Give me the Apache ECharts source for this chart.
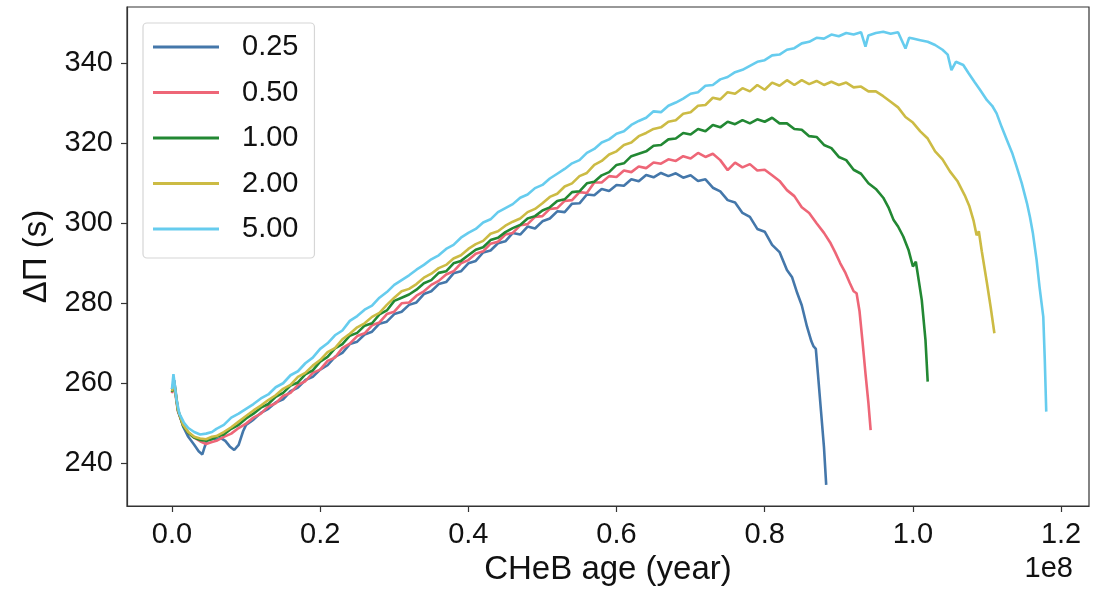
<!DOCTYPE html>
<html>
<head>
<meta charset="utf-8">
<script src="https://cdn.jsdelivr.net/npm/echarts@6/dist/echarts.min.js"></script>
<style>
  html, body { margin: 0; padding: 0; background: #fff; }
  #container { width: 1094px; height: 594px; }
</style>
</head>
<body>
<div id="container"></div>
<script>
// 各质量的 CHeB 年龄 (1e8 yr) 与 ΔΠ (s)
var names = ["0.25", "0.50", "1.00", "2.00", "5.00"];
var colors = ["#4477AA", "#EE6677", "#228833", "#CCBB44", "#66CCEE"];
var xTicks = [0, 0.2, 0.4, 0.6, 0.8, 1.0, 1.2];
var yTicks = [240, 260, 280, 300, 320, 340];

var m025 = [[0, 258.5], [0.003, 260.8], [0.008, 253.5], [0.015, 249.2], [0.022, 246.6], [0.03, 244.6], [0.036, 243.0], [0.041, 242.2], [0.044, 244.0], [0.047, 245.6], [0.053, 246.4], [0.06, 245.9], [0.066, 246.3], [0.072, 245.6], [0.078, 244.2], [0.084, 243.3], [0.09, 244.6], [0.096, 248.0], [0.1, 249.6], [0.11, 250.9], [0.12, 252.6], [0.13, 253.6], [0.14, 255.2], [0.15, 256.0], [0.16, 258.0], [0.17, 258.9], [0.18, 260.8], [0.19, 261.6], [0.2, 263.4], [0.21, 264.5], [0.22, 266.6], [0.23, 267.6], [0.24, 269.8], [0.25, 270.4], [0.26, 272.2], [0.27, 272.9], [0.28, 274.9], [0.29, 275.4], [0.3, 277.3], [0.31, 277.9], [0.32, 279.6], [0.33, 280.2], [0.34, 282.3], [0.35, 283.0], [0.36, 284.8], [0.37, 285.3], [0.38, 287.5], [0.39, 288.0], [0.4, 290.0], [0.41, 290.6], [0.42, 292.7], [0.43, 293.2], [0.44, 295.0], [0.45, 295.5], [0.46, 297.6], [0.47, 297.2], [0.48, 299.2], [0.49, 298.7], [0.5, 300.5], [0.51, 301.2], [0.52, 303.0], [0.53, 302.8], [0.54, 304.9], [0.55, 305.0], [0.56, 307.2], [0.57, 307.0], [0.58, 308.6], [0.59, 308.1], [0.6, 309.6], [0.61, 309.4], [0.62, 311.0], [0.63, 310.5], [0.64, 312.1], [0.65, 311.5], [0.66, 312.6], [0.67, 311.8], [0.68, 312.5], [0.69, 311.4], [0.7, 312.0], [0.71, 310.6], [0.72, 311.0], [0.73, 308.9], [0.74, 308.0], [0.75, 305.8], [0.76, 305.2], [0.77, 302.6], [0.78, 301.6], [0.79, 298.6], [0.8, 297.9], [0.81, 294.6], [0.82, 292.8], [0.83, 288.3], [0.837, 286.5], [0.844, 282.5], [0.85, 279.5], [0.857, 274.2], [0.863, 270.5], [0.866, 269.2], [0.869, 268.6], [0.872, 262.0], [0.876, 253.0], [0.88, 244.0], [0.883, 234.6]];

var m050 = [[0, 257.5], [0.003, 259.5], [0.008, 253.0], [0.015, 249.5], [0.022, 247.6], [0.03, 246.4], [0.038, 245.5], [0.046, 244.8], [0.054, 245.3], [0.06, 245.6], [0.07, 246.6], [0.08, 247.4], [0.09, 248.8], [0.1, 249.9], [0.11, 251.4], [0.12, 252.4], [0.13, 254.2], [0.14, 255.0], [0.15, 256.8], [0.16, 257.6], [0.17, 259.6], [0.18, 260.5], [0.19, 262.6], [0.2, 263.4], [0.21, 265.6], [0.22, 266.4], [0.23, 268.8], [0.24, 269.9], [0.25, 271.8], [0.26, 272.5], [0.27, 274.5], [0.28, 275.2], [0.29, 277.3], [0.3, 277.9], [0.31, 280.0], [0.32, 280.2], [0.33, 281.9], [0.34, 283.0], [0.35, 284.6], [0.36, 285.6], [0.37, 287.2], [0.38, 288.0], [0.39, 290.0], [0.4, 290.8], [0.41, 292.4], [0.42, 293.0], [0.43, 294.9], [0.44, 295.4], [0.45, 297.2], [0.46, 297.6], [0.47, 299.5], [0.48, 299.8], [0.49, 301.6], [0.5, 301.8], [0.51, 303.6], [0.52, 303.8], [0.53, 305.6], [0.54, 305.8], [0.55, 307.8], [0.56, 307.6], [0.57, 310.2], [0.58, 310.2], [0.59, 311.8], [0.6, 311.6], [0.61, 313.2], [0.62, 312.8], [0.63, 314.2], [0.64, 313.8], [0.65, 315.2], [0.66, 314.9], [0.67, 316.0], [0.68, 315.6], [0.69, 316.8], [0.7, 316.2], [0.71, 317.6], [0.72, 316.6], [0.73, 317.4], [0.74, 315.8], [0.75, 313.3], [0.76, 315.2], [0.77, 314.0], [0.78, 314.8], [0.79, 313.2], [0.8, 313.4], [0.81, 312.0], [0.82, 310.6], [0.83, 308.3], [0.84, 306.8], [0.85, 304.0], [0.86, 302.6], [0.87, 300.0], [0.88, 297.6], [0.889, 295.0], [0.895, 292.8], [0.902, 290.0], [0.909, 287.6], [0.915, 285.0], [0.92, 283.0], [0.924, 282.5], [0.928, 278.0], [0.932, 270.5], [0.936, 262.5], [0.94, 255.0], [0.943, 248.3]];

var m100 = [[0, 257.8], [0.003, 260.0], [0.008, 253.2], [0.015, 249.4], [0.022, 247.6], [0.03, 246.4], [0.038, 245.8], [0.046, 245.6], [0.054, 246.0], [0.06, 246.6], [0.07, 247.2], [0.08, 248.6], [0.09, 249.6], [0.1, 251.2], [0.11, 252.4], [0.12, 253.9], [0.13, 254.8], [0.14, 256.6], [0.15, 257.6], [0.16, 259.4], [0.17, 260.2], [0.18, 262.2], [0.19, 263.2], [0.2, 265.4], [0.21, 266.6], [0.22, 268.7], [0.23, 269.8], [0.24, 271.9], [0.25, 272.6], [0.26, 274.4], [0.27, 275.0], [0.28, 277.2], [0.29, 278.2], [0.3, 280.6], [0.31, 281.4], [0.32, 282.2], [0.33, 283.4], [0.34, 285.0], [0.35, 285.8], [0.36, 287.6], [0.37, 288.0], [0.38, 290.0], [0.39, 290.6], [0.4, 292.0], [0.41, 293.4], [0.42, 294.0], [0.43, 295.8], [0.44, 296.4], [0.45, 297.8], [0.46, 298.8], [0.47, 299.6], [0.48, 301.2], [0.49, 301.8], [0.5, 303.2], [0.51, 304.0], [0.52, 305.6], [0.53, 306.0], [0.54, 307.8], [0.55, 308.0], [0.56, 310.0], [0.57, 310.4], [0.58, 312.0], [0.59, 312.8], [0.6, 314.6], [0.61, 315.0], [0.62, 316.8], [0.63, 317.4], [0.64, 318.0], [0.65, 319.4], [0.66, 319.6], [0.67, 321.0], [0.68, 321.2], [0.69, 322.6], [0.7, 322.2], [0.71, 323.6], [0.72, 323.0], [0.73, 324.6], [0.74, 324.0], [0.75, 325.4], [0.76, 324.8], [0.77, 325.8], [0.78, 325.0], [0.79, 326.0], [0.8, 325.4], [0.81, 326.4], [0.82, 325.0], [0.83, 325.0], [0.84, 323.6], [0.85, 323.4], [0.86, 321.8], [0.87, 321.6], [0.88, 319.6], [0.89, 318.8], [0.9, 316.6], [0.91, 315.8], [0.92, 313.4], [0.93, 312.4], [0.94, 310.0], [0.95, 308.6], [0.96, 306.4], [0.967, 304.0], [0.974, 300.8], [0.98, 299.2], [0.987, 296.7], [0.994, 293.4], [1.0, 289.2], [1.004, 290.4], [1.008, 285.6], [1.012, 280.8], [1.017, 270.8], [1.02, 260.4]];

var m200 = [[0, 258.0], [0.003, 260.2], [0.008, 253.4], [0.015, 249.6], [0.022, 247.8], [0.03, 246.6], [0.038, 246.2], [0.046, 246.0], [0.054, 246.6], [0.06, 246.8], [0.07, 247.8], [0.08, 249.0], [0.09, 250.4], [0.1, 251.8], [0.11, 253.2], [0.12, 254.4], [0.13, 255.8], [0.14, 257.0], [0.15, 258.6], [0.16, 259.6], [0.17, 261.6], [0.18, 262.6], [0.19, 264.4], [0.2, 265.8], [0.21, 267.8], [0.22, 268.8], [0.23, 271.0], [0.24, 272.4], [0.25, 274.0], [0.26, 275.0], [0.27, 276.6], [0.28, 277.6], [0.29, 279.6], [0.3, 281.4], [0.31, 283.0], [0.32, 283.6], [0.33, 284.8], [0.34, 286.4], [0.35, 287.4], [0.36, 288.8], [0.37, 289.6], [0.38, 291.2], [0.39, 292.0], [0.4, 293.6], [0.41, 294.8], [0.42, 295.6], [0.43, 297.4], [0.44, 298.0], [0.45, 299.4], [0.46, 300.4], [0.47, 301.2], [0.48, 302.8], [0.49, 303.6], [0.5, 305.0], [0.51, 306.6], [0.52, 307.4], [0.53, 309.2], [0.54, 310.0], [0.55, 311.8], [0.56, 312.6], [0.57, 314.6], [0.58, 315.6], [0.59, 317.2], [0.6, 318.0], [0.61, 319.6], [0.62, 320.2], [0.63, 321.8], [0.64, 322.6], [0.65, 323.6], [0.66, 324.0], [0.67, 325.4], [0.68, 325.8], [0.69, 327.4], [0.7, 327.8], [0.71, 329.4], [0.72, 329.6], [0.73, 331.4], [0.74, 331.0], [0.75, 332.8], [0.76, 332.4], [0.77, 333.8], [0.78, 333.0], [0.79, 334.6], [0.8, 333.4], [0.81, 335.2], [0.82, 334.4], [0.83, 335.8], [0.84, 334.6], [0.85, 335.8], [0.86, 334.8], [0.87, 335.6], [0.88, 334.6], [0.89, 335.4], [0.9, 334.6], [0.91, 335.2], [0.92, 334.0], [0.93, 334.2], [0.94, 333.0], [0.95, 333.0], [0.96, 331.8], [0.97, 330.4], [0.98, 329.0], [0.99, 326.6], [1.0, 325.2], [1.01, 323.0], [1.02, 321.2], [1.03, 318.0], [1.04, 316.0], [1.05, 313.0], [1.06, 310.6], [1.07, 307.0], [1.076, 304.4], [1.082, 300.6], [1.086, 297.0], [1.089, 298.0], [1.093, 293.0], [1.1, 285.0], [1.105, 279.0], [1.11, 272.5]];

var m500 = [[0, 258.5], [0.002, 262.3], [0.006, 256.0], [0.01, 252.4], [0.016, 250.2], [0.022, 248.8], [0.03, 247.8], [0.038, 247.2], [0.046, 247.4], [0.054, 247.8], [0.06, 248.6], [0.07, 249.6], [0.08, 251.4], [0.09, 252.4], [0.1, 253.6], [0.11, 254.8], [0.12, 256.2], [0.13, 257.2], [0.14, 259.0], [0.15, 260.0], [0.16, 262.0], [0.17, 263.0], [0.18, 265.0], [0.19, 266.4], [0.2, 268.6], [0.21, 270.0], [0.22, 272.0], [0.23, 273.2], [0.24, 275.6], [0.25, 276.8], [0.26, 278.4], [0.27, 279.4], [0.28, 281.4], [0.29, 282.8], [0.3, 284.6], [0.31, 285.8], [0.32, 287.0], [0.33, 288.4], [0.34, 289.6], [0.35, 291.0], [0.36, 292.0], [0.37, 293.6], [0.38, 294.6], [0.39, 296.4], [0.4, 297.6], [0.41, 298.6], [0.42, 300.2], [0.43, 301.0], [0.44, 302.8], [0.45, 303.8], [0.46, 304.8], [0.47, 306.4], [0.48, 307.2], [0.49, 308.8], [0.5, 309.6], [0.51, 311.2], [0.52, 312.4], [0.53, 313.6], [0.54, 315.0], [0.55, 315.8], [0.56, 317.6], [0.57, 318.6], [0.58, 320.2], [0.59, 321.0], [0.6, 322.4], [0.61, 323.0], [0.62, 324.6], [0.63, 325.6], [0.64, 326.4], [0.65, 328.0], [0.66, 327.8], [0.67, 329.4], [0.68, 330.2], [0.69, 331.2], [0.7, 332.4], [0.71, 332.8], [0.72, 334.4], [0.73, 334.6], [0.74, 336.0], [0.75, 336.6], [0.76, 337.8], [0.77, 338.4], [0.78, 339.4], [0.79, 340.4], [0.8, 340.8], [0.81, 342.0], [0.82, 342.2], [0.83, 343.4], [0.84, 343.8], [0.85, 345.0], [0.86, 345.4], [0.87, 346.4], [0.88, 346.2], [0.89, 347.2], [0.9, 346.8], [0.91, 347.6], [0.92, 347.2], [0.93, 347.8], [0.936, 344.2], [0.94, 347.0], [0.95, 347.6], [0.96, 347.9], [0.97, 347.4], [0.98, 347.8], [0.99, 343.7], [0.995, 346.4], [1.0, 346.2], [1.01, 345.8], [1.02, 345.4], [1.03, 344.6], [1.04, 343.4], [1.047, 342.2], [1.052, 338.3], [1.058, 340.4], [1.068, 339.6], [1.075, 337.6], [1.083, 335.4], [1.091, 333.3], [1.1, 330.8], [1.107, 329.4], [1.113, 327.5], [1.12, 324.0], [1.127, 320.8], [1.134, 317.6], [1.14, 314.2], [1.147, 310.0], [1.154, 305.0], [1.158, 301.6], [1.162, 297.5], [1.167, 290.8], [1.171, 284.0], [1.176, 276.6], [1.178, 266.0], [1.18, 252.9]];

var seriesData = [m025, m050, m100, m200, m500];
var FONT = "Liberation Sans, Arial, Helvetica, sans-serif";

function initChart() {
    var series = [];
    for (var i = 0; i < names.length; i++) {
        series.push({
            name: names[i],
            type: "line",
            data: seriesData[i],
            showSymbol: false,
            symbol: "none",
            animation: false,
            color: colors[i],
            lineStyle: { width: 2.6, color: colors[i] }
        });
    }

    var option = {
        backgroundColor: "#fff",
        animation: false,
        grid: {
            left: 127, top: 7, width: 962, height: 499,
            show: true, borderColor: "#333", borderWidth: 1.2,
            backgroundColor: "transparent"
        },
        legend: {
            orient: "vertical",
            left: 143, top: 23,
            padding: [9, 16, 14, 10],
            itemWidth: 66, itemHeight: 3,
            itemGap: 15.5,
            icon: "rect",
            backgroundColor: "#fff",
            borderColor: "#d6d6d6", borderWidth: 1.2, borderRadius: 4,
            textStyle: {
                fontFamily: FONT, fontSize: 29, color: "#111",
                lineHeight: 30, padding: [0, 0, 0, 18]
            },
            data: names
        },
        xAxis: {
            type: "value",
            min: -0.0607, max: 1.2377,
            splitLine: { show: false },
            axisLine: { show: true, onZero: false, lineStyle: { color: "#333", width: 1.2 } },
            axisTick: { show: true, length: 6, lineStyle: { color: "#333", width: 1.2 }, customValues: xTicks },
            axisLabel: {
                customValues: xTicks, margin: 14,
                fontFamily: FONT, fontSize: 29, color: "#111",
                formatter: function (v) { return v.toFixed(1); }
            },
            name: "CHeB age (year)",
            nameLocation: "middle", nameGap: 42,
            nameTextStyle: { fontFamily: FONT, fontSize: 33, color: "#111" }
        },
        yAxis: {
            type: "value",
            min: 229.3, max: 354.1,
            splitLine: { show: false },
            axisLine: { show: true, onZero: false, lineStyle: { color: "#333", width: 1.2 } },
            axisTick: { show: true, length: 6, lineStyle: { color: "#333", width: 1.2 }, customValues: yTicks },
            axisLabel: {
                customValues: yTicks, margin: 14,
                fontFamily: FONT, fontSize: 29, color: "#111",
                formatter: function (v) { return String(Math.round(v)); }
            },
            name: "ΔΠ (s)",
            nameLocation: "middle", nameGap: 74,
            nameTextStyle: { fontFamily: FONT, fontSize: 33, color: "#111" }
        },
        graphic: [{
            type: "text",
            right: 21, top: 554,
            style: { text: "1e8", font: "29px " + FONT, fill: "#111" }
        }],
        series: series
    };

    var myChart = echarts.init(document.getElementById("container"));
    myChart.setOption(option);
}

initChart();
</script>
</body>
</html>
